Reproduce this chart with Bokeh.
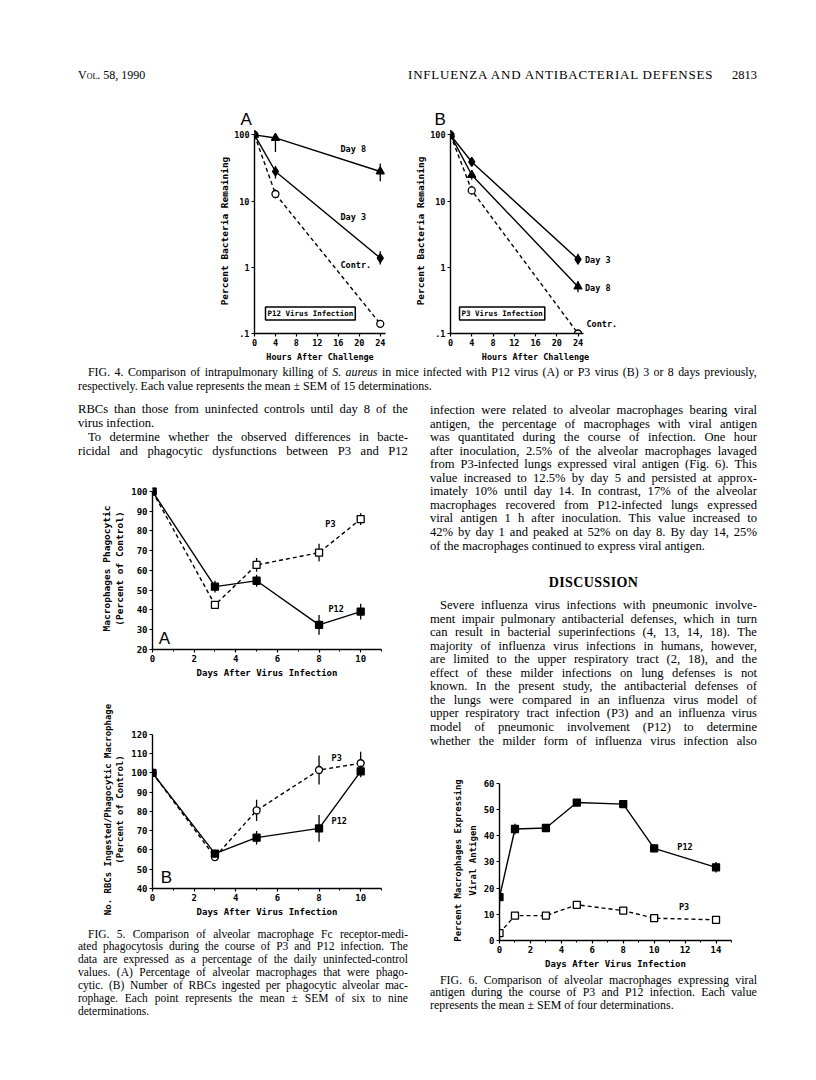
import numpy as np
from bokeh.plotting import figure
from bokeh.layouts import column, row
from bokeh.models import Div, Label, FixedTicker, CustomJSTickFormatter, Range1d, Title
from bokeh.embed import file_html
from bokeh.resources import INLINE

# ---------------- data ----------------
# Fig 4 (percent bacteria remaining, log scale)
hours = [0, 4, 24]
hour_ticks = [0, 4, 8, 12, 16, 20, 24]
log_ticks = [0.1, 1, 10, 100]
a_day8 = [100, 90, 28];    a_day8_lo = [100, 55, 20];   a_day8_hi = [100, 104, 37]
a_day3 = [100, 28, 1.38];  a_day3_lo = [100, 22, 1.1];  a_day3_hi = [100, 34, 1.75]
a_ctrl = [100, 12.8, 0.14]; a_ctrl_lo = [100, 11, 0.125]; a_ctrl_hi = [100, 15, 0.16]
b_day3 = [100, 39, 1.32];  b_day3_lo = [100, 34, 1.1];  b_day3_hi = [100, 45, 1.6]
b_day8 = [100, 24.8, 0.51]; b_day8_lo = [100, 21, 0.42]; b_day8_hi = [100, 29, 0.62]
b_ctrl = [100, 14.5, 0.1]; b_ctrl_lo = [100, 12.5, 0.1]; b_ctrl_hi = [100, 17, 0.1]

# Fig 5
days5 = [0, 3, 5, 8, 10]
day5_ticks = [0, 2, 4, 6, 8, 10]
day5_minor = [1, 3, 5, 7, 9, 11]
f5a_p3 = [100, 42.6, 62.8, 69.0, 86.0];   f5a_p3_err = [0, 1.0, 3.5, 4.5, 3.0]
f5a_p12 = [100, 51.8, 54.8, 32.5, 39.2];  f5a_p12_err = [0, 3.0, 3.0, 5.0, 4.0]
f5a_yticks = [20, 30, 40, 50, 60, 70, 80, 90, 100]
f5b_p3 = [100, 56.3, 80.5, 101.5, 105.0]; f5b_p3_err = [0, 1.5, 5.5, 7.5, 6.0]
f5b_p12 = [100, 58.1, 66.4, 71.2, 100.8]; f5b_p12_err = [0, 2.0, 3.5, 7.0, 3.0]
f5b_yticks = [40, 50, 60, 70, 80, 90, 100, 110, 120]

# Fig 6
days6 = [0, 1, 3, 5, 8, 10, 14]
day6_ticks = [0, 2, 4, 6, 8, 10, 12, 14]
day6_minor = [1, 3, 5, 7, 9, 11, 13, 15]
f6_p12 = [16.5, 42.5, 42.9, 52.6, 52.0, 35.1, 27.9]; f6_p12_err = [4.0, 2.0, 0.8, 0.8, 0.8, 1.5, 2.0]
f6_p3 = [2.8, 9.5, 9.5, 13.6, 11.4, 8.5, 7.9];       f6_p3_err = [2.5, 0.8, 0.6, 0.8, 0.5, 0.8, 0.8]
f6_yticks = [0, 10, 20, 30, 40, 50, 60]

# ---------------- texts ----------------
cap4_lines = [
    "FIG. 4. Comparison of intrapulmonary killing of <i>S.</i> <i>aureus</i> in mice infected with P12 virus (A) or P3 virus (B) 3 or 8 days previously,",
    "respectively. Each value represents the mean ± SEM of 15 determinations.",
]
left_lines = [
    "RBCs than those from uninfected controls until day 8 of the",
    "virus infection.",
    "To determine whether the observed differences in bacte-",
    "ricidal and phagocytic dysfunctions between P3 and P12",
]
right_lines_1 = [
    "infection were related to alveolar macrophages bearing viral",
    "antigen, the percentage of macrophages with viral antigen",
    "was quantitated during the course of infection. One hour",
    "after inoculation, 2.5% of the alveolar macrophages lavaged",
    "from P3-infected lungs expressed viral antigen (Fig. 6). This",
    "value increased to 12.5% by day 5 and persisted at approx-",
    "imately 10% until day 14. In contrast, 17% of the alveolar",
    "macrophages recovered from P12-infected lungs expressed",
    "viral antigen 1 h after inoculation. This value increased to",
    "42% by day 1 and peaked at 52% on day 8. By day 14, 25%",
    "of the macrophages continued to express viral antigen.",
]
right_lines_2 = [
    "Severe influenza virus infections with pneumonic involve-",
    "ment impair pulmonary antibacterial defenses, which in turn",
    "can result in bacterial superinfections (4, 13, 14, 18). The",
    "majority of influenza virus infections in humans, however,",
    "are limited to the upper respiratory tract (2, 18), and the",
    "effect of these milder infections on lung defenses is not",
    "known. In the present study, the antibacterial defenses of",
    "the lungs were compared in an influenza virus model of",
    "upper respiratory tract infection (P3) and an influenza virus",
    "model of pneumonic involvement (P12) to determine",
    "whether the milder form of influenza virus infection also",
]
cap5_lines = [
    "FIG. 5. Comparison of alveolar macrophage Fc receptor-medi-",
    "ated phagocytosis during the course of P3 and P12 infection. The",
    "data are expressed as a percentage of the daily uninfected-control",
    "values. (A) Percentage of alveolar macrophages that were phago-",
    "cytic. (B) Number of RBCs ingested per phagocytic alveolar mac-",
    "rophage. Each point represents the mean ± SEM of six to nine",
    "determinations.",
]
cap6_lines = [
    "FIG. 6. Comparison of alveolar macrophages expressing viral",
    "antigen during the course of P3 and P12 infection. Each value",
    "represents the mean ± SEM of four determinations.",
]

MONO = "DejaVu Sans Mono"
SERIF = "'Liberation Serif','Times New Roman',serif"


def ln(text, cy, left, right, origin, justify=True, size=12.6, weight="normal",
       align="left", variant="normal", lh=14, extra=""):
    ox, oy = origin
    top = cy - lh / 2 - oy
    base = (f"position:absolute;left:{left-ox:.1f}px;top:{top:.1f}px;width:{right-left:.1f}px;"
            f"height:{lh}px;line-height:{lh}px;font-family:{SERIF};font-size:{size}px;"
            f"font-weight:{weight};font-variant:{variant};color:#000;white-space:nowrap;{extra}")
    if justify:
        spans = "".join(f"<span>{t}</span>" for t in text.split(" "))
        return f'<div style="{base}display:flex;justify-content:space-between;">{spans}</div>'
    return f'<div style="{base}text-align:{align};">{text}</div>'


def block(html, w, h):
    return Div(text=f'<div style="position:relative;width:{w}px;height:{h}px;">{html}</div>',
               width=w, height=h, margin=0)


def make_fig(w, h, bl, br, bt, bb, xr, yr, ylog=False):
    p = figure(width=w, height=h, x_range=Range1d(*xr), y_range=Range1d(*yr),
               y_axis_type="log" if ylog else "linear", output_backend="svg",
               toolbar_location=None, title=None,
               min_border_left=bl, min_border_right=br, min_border_top=bt, min_border_bottom=bb,
               background_fill_color="white", border_fill_color="white")
    p.outline_line_color = None
    p.grid.visible = False
    return p


def style(p, xticks, xminor, yticks, yminor, xbounds, ybounds, xlabel, ylabel,
          tick_size="9px", lab_size="9px", ylab_size=None, lab_lh=1.2, ylab_standoff=3):
    p.xaxis.ticker = FixedTicker(ticks=xticks, minor_ticks=xminor)
    p.yaxis.ticker = FixedTicker(ticks=yticks, minor_ticks=yminor)
    p.xaxis.bounds = xbounds
    p.yaxis.bounds = ybounds
    p.xaxis.axis_label = xlabel
    p.yaxis.axis_label = ylabel
    for ax in p.axis:
        ax.axis_line_color = "black"
        ax.axis_line_width = 1.4
        ax.major_tick_line_color = "black"
        ax.minor_tick_line_color = "black"
        ax.major_tick_line_width = 1.2
        ax.minor_tick_line_width = 1.0
        ax.major_tick_out = 3
        ax.major_tick_in = 0
        ax.minor_tick_out = 2
        ax.minor_tick_in = 0
        ax.major_label_standoff = 2
        ax.major_label_text_font = MONO
        ax.major_label_text_font_style = "bold"
        ax.major_label_text_font_size = tick_size
        ax.major_label_text_color = "black"
        ax.axis_label_text_font = MONO
        ax.axis_label_text_font_style = "bold"
        ax.axis_label_text_font_size = lab_size
        ax.axis_label_text_color = "black"
        ax.axis_label_text_line_height = lab_lh
        ax.axis_label_standoff = 3
    p.yaxis.axis_label_standoff = ylab_standoff
    if ylab_size:
        p.yaxis.axis_label_text_font_size = ylab_size


def lab(p, x, y, text, size="8.5px", font=MONO, fstyle="bold", align="left", **kw):
    p.add_layout(Label(x=x, y=y, text=text, text_font=font, text_font_size=size,
                       text_font_style=fstyle, text_align=align, text_baseline="middle",
                       text_color="black", **kw))


def panel_letter(p, letter, offset):
    p.add_layout(Title(text=letter, align="left", offset=offset, standoff=0,
                       text_font="Liberation Sans", text_font_size="17px",
                       text_font_style="normal", text_color="black"), "above")


def series(p, x, y, lo, hi, marker, filled, dashed, size=7):
    p.segment(x0=x, y0=lo, x1=x, y1=hi, line_color="black", line_width=1.3)
    p.line(x, y, line_color="black", line_width=1.4, line_dash="4 3" if dashed else "solid")
    p.scatter(x, y, marker=marker, size=size, fill_color="black" if filled else "white",
              line_color="black", line_width=1.3)


def sym(y, e):
    y = np.array(y, dtype=float)
    e = np.array(e, dtype=float)
    return y - e, y + e


log_fmt = CustomJSTickFormatter(code="return tick < 1 ? String(tick).replace('0.', '.') : String(tick);")

# ---------------- Fig 4A ----------------
f4a = make_fig(388, 264, 254, 3, 28, 31, (0, 25), (0.1, 125), ylog=True)
style(f4a, hour_ticks, [], log_ticks, [], (0, 25), (0.1, 100),
      "Hours After Challenge", "Percent Bacteria Remaining", tick_size="8.5px", lab_size="8.5px",
      ylab_size="9.5px", ylab_standoff=1)
f4a.yaxis.formatter = log_fmt
series(f4a, hours, a_ctrl, a_ctrl_lo, a_ctrl_hi, "circle", False, True)
series(f4a, hours, a_day3, a_day3_lo, a_day3_hi, "diamond", True, False, size=9)
series(f4a, hours, a_day8, a_day8_lo, a_day8_hi, "triangle", True, False, size=8)
lab(f4a, 16.4, 61, "Day 8")
lab(f4a, 16.4, 5.8, "Day 3")
lab(f4a, 16.4, 1.1, "Contr.")
lab(f4a, 2.1, 0.2, "P12 Virus Infection", size="7.5px", border_line_color="black",
    border_line_width=1.5, background_fill_color="white", padding=2)
panel_letter(f4a, "A", -14)

# ---------------- Fig 4B ----------------
f4b = make_fig(252, 264, 62, 20, 28, 31, (0, 32), (0.1, 125), ylog=True)
style(f4b, hour_ticks, [], log_ticks, [], (0, 25), (0.1, 100),
      "Hours After Challenge", "Percent Bacteria Remaining", tick_size="8.5px", lab_size="8.5px",
      ylab_size="9.5px", ylab_standoff=1)
f4b.yaxis.formatter = log_fmt
series(f4b, hours, b_ctrl, b_ctrl_lo, b_ctrl_hi, "circle", False, True)
series(f4b, hours, b_day8, b_day8_lo, b_day8_hi, "triangle", True, False, size=8)
series(f4b, hours, b_day3, b_day3_lo, b_day3_hi, "diamond", True, False, size=9)
lab(f4b, 25.3, 1.3, "Day 3")
lab(f4b, 25.3, 0.49, "Day 8")
lab(f4b, 25.6, 0.14, "Contr.")
lab(f4b, 1.7, 0.2, "P3 Virus Infection", size="7.5px", border_line_color="black",
    border_line_width=1.5, background_fill_color="white", padding=2)
panel_letter(f4b, "B", -16)

# ---------------- Fig 5A ----------------
f5a = make_fig(418, 210, 152, 37, 17, 31, (0, 11), (20, 102))
style(f5a, day5_ticks, day5_minor, f5a_yticks, [], (0, 11), (20, 100),
      "Days After Virus Infection", "Macrophages Phagocytic\n(Percent of Control)",
      ylab_size="9.5px")
lo, hi = sym(f5a_p3, f5a_p3_err)
series(f5a, days5, f5a_p3, lo, hi, "square", False, True)
lo, hi = sym(f5a_p12, f5a_p12_err)
series(f5a, days5, f5a_p12, lo, hi, "square", True, False)
lab(f5a, 8.3, 83.6, "P3")
lab(f5a, 8.45, 40.7, "P12")
lab(f5a, 0.3, 25.5, "A", size="17px", font="Liberation Sans", fstyle="normal")

# ---------------- Fig 5B ----------------
f5b = make_fig(418, 245, 152, 37, 50, 37, (0, 11), (40, 122))
style(f5b, day5_ticks, day5_minor, f5b_yticks, [], (0, 11), (40, 120),
      "Days After Virus Infection", "No. RBCs Ingested/Phagocytic Macrophage\n(Percent of Control)")
lo, hi = sym(f5b_p3, f5b_p3_err)
series(f5b, days5, f5b_p3, lo, hi, "circle", False, True)
lo, hi = sym(f5b_p12, f5b_p12_err)
series(f5b, days5, f5b_p12, lo, hi, "square", True, False)
lab(f5b, 8.6, 107.9, "P3")
lab(f5b, 8.6, 74.8, "P12")
lab(f5b, 0.4, 45.8, "B", size="17px", font="Liberation Sans", fstyle="normal")

# ---------------- Fig 6 ----------------
f6 = make_fig(390, 210, 81, 77, 18, 32, (0, 15), (0, 61))
style(f6, day6_ticks, day6_minor, f6_yticks, [], (0, 15), (0, 60),
      "Days After Virus Infection", "Percent Macrophages Expressing\nViral Antigen", lab_lh=1.5)
lo, hi = sym(f6_p3, f6_p3_err)
series(f6, days6, f6_p3, lo, hi, "square", False, True)
lo, hi = sym(f6_p12, f6_p12_err)
series(f6, days6, f6_p12, lo, hi, "square", True, False)
lab(f6, 11.5, 35.8, "P12")
lab(f6, 11.6, 12.6, "P3")

# ---------------- text blocks ----------------
o = (0, 0)
header = block(
    ln("Vol. 58, 1990", 75, 78, 200, o, justify=False, size=12, variant="small-caps")
    + ln("INFLUENZA AND ANTIBACTERIAL DEFENSES", 75, 408, 720, o, justify=False, size=13,
         extra="letter-spacing:0.8px;")
    + ln("2813", 75, 700, 757, o, justify=False, size=12.5, align="right"),
    800, 100)

o = (0, 364)
cap4 = block(
    ln(cap4_lines[0], 372, 88, 757, o, size=11.9)
    + ln(cap4_lines[1], 385.5, 78, 757, o, justify=False, size=11.9),
    800, 34)

o = (0, 398)
txtL = block(
    ln(left_lines[0], 409, 78, 408, o)
    + ln(left_lines[1], 422.5, 78, 408, o, justify=False)
    + ln(left_lines[2], 437, 88, 408, o)
    + ln(left_lines[3], 451, 78, 408, o),
    418, 72)

o = (418, 398)
rh = ""
for k, t in enumerate(right_lines_1):
    rh += ln(t, 410 + 13.55 * k, 430, 757, o, justify=(k < len(right_lines_1) - 1))
rh += ln("DISCUSSION", 583, 430, 757, o, justify=False, weight="bold", align="center", size=14,
         extra="letter-spacing:0.4px;")
for k, t in enumerate(right_lines_2):
    rh += ln(t, 605 + 13.55 * k, 440 if k == 0 else 430, 757, o)
txtR = block(rh, 390, 364)

o = (0, 925)
ch = ""
for k, t in enumerate(cap5_lines):
    ch += ln(t, 934 + 12.9 * k, 88 if k == 0 else 78, 408, o,
             justify=(k < len(cap5_lines) - 1), size=11.5, lh=13)
cap5 = block(ch, 418, 100)

o = (418, 972)
ch = ""
for k, t in enumerate(cap6_lines):
    ch += ln(t, 980 + 12.8 * k, 440 if k == 0 else 430, 757, o,
             justify=(k < len(cap6_lines) - 1), size=11.9, lh=13)
cap6 = block(ch, 390, 53)

left_col = column(txtL, f5a, f5b, cap5, spacing=0)
right_col = column(txtR, f6, cap6, spacing=0)
page = column(header, row(f4a, f4b, spacing=0), cap4, row(left_col, right_col, spacing=0), spacing=0)

open("out.html", "w").write(file_html(page, INLINE))
